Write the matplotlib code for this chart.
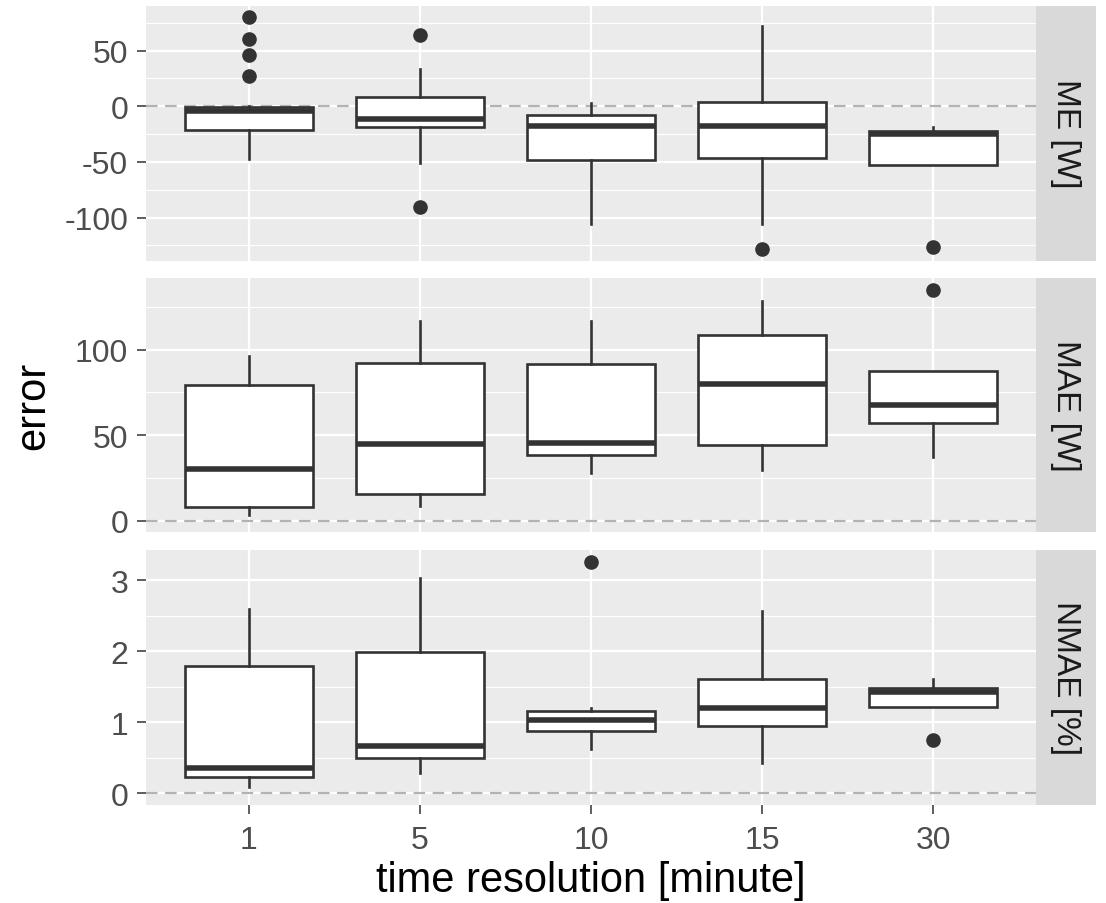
import matplotlib
matplotlib.use("Agg")
import matplotlib.pyplot as plt
import numpy as np

plt.rcParams['font.family'] = ['Liberation Sans', 'DejaVu Sans']

# x categories (time resolution in minutes)
resolutions = ["1", "5", "10", "15", "30"]

# facet labels
facets = ["ME [W]", "MAE [W]", "NMAE [%]"]

# box summaries per facet: lower whisker, Q1, median, Q3, upper whisker, outliers
me_whislo = [-47.4, -51.3, -106.0, -106.0, -52.8]
me_q1 = [-21.0, -19.0, -48.0, -46.8, -52.8]
me_med = [-4.2, -11.4, -17.7, -17.7, -25.0]
me_q3 = [-1.0, 8.0, -7.8, 3.6, -21.9]
me_whishi = [0.0, 33.6, 2.7, 72.6, -19.0]
me_fliers = [[80.0, 60.6, 46.5, 27.6], [64.5, -90.3], [], [-128.4], [-126.9]]

mae_whislo = [3.3, 8.8, 28.0, 29.6, 37.4]
mae_q1 = [8.2, 15.8, 38.3, 44.2, 57.4]
mae_med = [30.0, 44.9, 45.7, 79.8, 67.9]
mae_q3 = [79.2, 92.4, 91.4, 108.8, 87.4]
mae_whishi = [96.1, 116.7, 117.1, 128.4, 87.4]
mae_fliers = [[], [], [], [], [135.2]]

nmae_whislo = [0.08, 0.29, 0.62, 0.418, 1.207]
nmae_q1 = [0.23, 0.49, 0.87, 0.939, 1.207]
nmae_med = [0.347, 0.667, 1.033, 1.197, 1.418]
nmae_q3 = [1.793, 1.98, 1.16, 1.606, 1.474]
nmae_whishi = [2.59, 3.03, 1.2, 2.56, 1.606]
nmae_fliers = [[], [], [3.26], [], [0.746]]

# tick values per facet
me_ticks = [-100, -50, 0, 50]
mae_ticks = [0, 50, 100]
nmae_ticks = [0, 1, 2, 3]

panels = [
    (me_whislo, me_q1, me_med, me_q3, me_whishi, me_fliers, me_ticks),
    (mae_whislo, mae_q1, mae_med, mae_q3, mae_whishi, mae_fliers, mae_ticks),
    (nmae_whislo, nmae_q1, nmae_med, nmae_q3, nmae_whishi, nmae_fliers, nmae_ticks),
]

W, H = 1106, 904
fig = plt.figure(figsize=(W / 100, H / 100), dpi=100)
fig.patch.set_facecolor("white")

px_left, px_right, strip_right = 146, 1036, 1096
panel_px = [(6.7, 261.7), (279.0, 533.3), (551.0, 805.7)]

INK = "#333333"
positions = np.arange(1, len(resolutions) + 1)

for i, (wlo, q1, med, q3, whi, fl, ticks) in enumerate(panels):
    top, bot = panel_px[i]
    ax = fig.add_axes([px_left / W, 1 - bot / H, (px_right - px_left) / W, (bot - top) / H])
    ax.set_facecolor("#EBEBEB")
    for s in ax.spines.values():
        s.set_visible(False)

    allv = list(wlo) + list(whi) + [v for f in fl for v in f] + [0.0]
    lo, hi = min(allv), max(allv)
    rng = hi - lo
    ax.set_ylim(lo - 0.05 * rng, hi + 0.05 * rng)
    ax.set_xlim(0.4, len(resolutions) + 0.6)

    # grid lines
    step = ticks[1] - ticks[0]
    minors = [t - step / 2 for t in ticks] + [ticks[-1] + step / 2]
    ylo, yhi = ax.get_ylim()
    for m in minors:
        if ylo < m < yhi:
            ax.axhline(m, color="white", lw=0.8, zorder=0.5)
    for t in ticks:
        ax.axhline(t, color="white", lw=1.6, zorder=0.6)
    for p in positions:
        ax.axvline(p, color="white", lw=1.6, zorder=0.6)

    # zero reference line
    ax.axhline(0, color="#B3B3B3", lw=1.6, linestyle=(0, (5.2, 3.4)), zorder=1)

    stats = []
    for k in range(len(resolutions)):
        stats.append(dict(whislo=wlo[k], q1=q1[k], med=med[k], q3=q3[k],
                          whishi=whi[k], fliers=fl[k]))
    ax.bxp(stats, positions=positions, widths=0.75, patch_artist=True,
           showcaps=False, manage_ticks=False,
           boxprops=dict(facecolor="white", edgecolor=INK, linewidth=1.9),
           medianprops=dict(color=INK, linewidth=4.0, solid_capstyle="butt"),
           whiskerprops=dict(color=INK, linewidth=1.9),
           flierprops=dict(marker="o", markerfacecolor=INK, markeredgecolor=INK,
                           markersize=9.5),
           zorder=3)

    ax.set_yticks(ticks)
    ax.set_yticklabels([str(t) for t in ticks])
    ax.tick_params(axis="y", colors=INK, labelcolor="#4D4D4D", labelsize=23,
                   length=6.3, width=1.1, pad=6.5)
    if i == len(panels) - 1:
        ax.set_xticks(positions)
        ax.set_xticklabels(resolutions)
        ax.tick_params(axis="x", colors=INK, labelcolor="#4D4D4D", labelsize=23,
                       length=6.3, width=1.1, pad=8)
    else:
        ax.set_xticks([])

    # facet strip on the right
    sax = fig.add_axes([px_right / W, 1 - bot / H, (strip_right - px_right) / W, (bot - top) / H])
    sax.set_facecolor("#D9D9D9")
    sax.set_xticks([])
    sax.set_yticks([])
    for s in sax.spines.values():
        s.set_visible(False)
    sax.text(0.5, 0.5, facets[i], rotation=-90, ha="center", va="center",
             fontsize=24, color="#1A1A1A", transform=sax.transAxes)

fig.text((px_left + px_right) / 2 / W, 1 - 881 / H, "time resolution [minute]",
         ha="center", va="center", fontsize=30, color="black")
fig.text(33 / W, 1 - 406 / H, "error", rotation=90, ha="center", va="center",
         fontsize=30, color="black")

fig.savefig("out.png", dpi=100, facecolor="white")
